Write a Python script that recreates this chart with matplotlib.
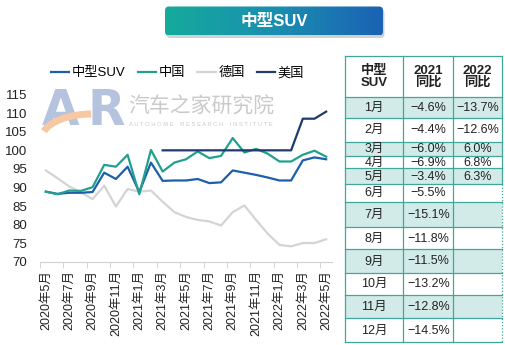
import numpy as np
import matplotlib.pyplot as plt
from matplotlib.patches import FancyBboxPatch, Rectangle, Arc
from matplotlib.lines import Line2D
from matplotlib.colors import LinearSegmentedColormap

plt.rcParams['font.family'] = ['Liberation Sans', 'Noto Sans CJK SC']
plt.rcParams['axes.unicode_minus'] = True

# monthly index, 2020-05 .. 2022-05
months = [f'{2020 + (m - 1) // 12}年{(m - 1) % 12 + 1}月' for m in range(5, 30)]
suv = [88.9, 88.3, 88.6, 88.6, 88.8, 94.0, 92.3, 95.6, 88.8, 96.7, 91.8, 91.9, 91.9,
       92.3, 91.2, 91.4, 94.6, 94.0, 93.4, 92.7, 91.9, 91.9, 97.3, 98.1, 97.6]
china = [88.9, 88.2, 89.2, 89.1, 90.1, 96.1, 95.6, 98.8, 88.2, 100.1, 94.3, 96.7, 97.6,
         99.7, 97.9, 98.5, 103.3, 99.4, 100.4, 99.1, 97.0, 97.0, 98.8, 99.9, 98.3]
germany = [94.6, 92.5, 90.3, 88.7, 86.9, 90.5, 84.9, 89.6, 88.9, 89.2, 86.2, 83.4, 82.1,
           81.3, 80.9, 79.8, 83.4, 85.2, 81.3, 77.6, 74.6, 74.2, 75.1, 75.1, 76.1]
usa = [np.nan] * 10 + [100.0] * 12 + [108.5, 108.5, 110.4]

# year-on-year table
tbl_header = ['中型\nSUV', '2021\n同比', '2022\n同比']
tbl_month = [f'{m}月' for m in range(1, 13)]
yoy_2021 = [-4.6, -4.4, -6.0, -6.9, -3.4, -5.5, -15.1, -11.8, -11.5, -13.2, -12.8, -14.5]
yoy_2022 = [-13.7, -12.6, 6.0, 6.8, 6.3]

C_SUV = '#1c5fab'
C_CN = '#22a08d'
C_DE = '#d4d4d4'
C_US = '#1f3a6e'
C_GRID = '#3fa89a'
C_SHADE = '#d3ebe8'

W, H = 505, 345
fig = plt.figure(figsize=(W / 100, H / 100), dpi=100)

# ---- line chart ----
ax = fig.add_axes([40 / W, 1 - 262 / H, 292 / W, 167.5 / H])
x = np.arange(len(months))
ax.plot(x, germany, color=C_DE, lw=1.6, zorder=2)
ax.plot(x, suv, color=C_SUV, lw=1.6, zorder=3)
ax.plot(x, china, color=C_CN, lw=1.6, zorder=4)
ax.plot(x, usa, color=C_US, lw=1.6, zorder=5)
ax.set_xlim(-0.5, len(months) - 0.5)
ax.set_ylim(70, 115)
ax.set_yticks(np.arange(70, 116, 5))
ax.tick_params(axis='y', length=0, labelsize=9.5, colors='#222222', pad=9)
ax.set_xticks(x[::2])
ax.set_xticklabels(months[::2], rotation=90, fontsize=9, color='#222222')
ax.set_xticks(np.arange(-0.5, len(months), 2), minor=True)
ax.tick_params(axis='x', which='major', length=0, pad=6)
ax.tick_params(axis='x', which='minor', length=4, color='#d0d0d0')
for s in ['top', 'right', 'left']:
    ax.spines[s].set_visible(False)
ax.spines['bottom'].set_color('#d0d0d0')
ax.patch.set_alpha(0)

handles = [Line2D([], [], color=c, lw=1.6) for c in (C_SUV, C_CN, C_DE, C_US)]
fig.legend(handles, ['中型SUV', '中国', '德国', '美国'], loc='center left',
           bbox_to_anchor=(51 / W, 1 - 73 / H), ncol=4, frameon=False,
           borderpad=0, borderaxespad=0,
           handlelength=1.4, handletextpad=0.2, columnspacing=0.9, fontsize=9.5)

# ---- overlay in pixel coordinates: banner, watermark, table ----
ov = fig.add_axes([0, 0, 1, 1], zorder=-1)
ov.axis('off')

# watermark
ov.text(42, 111, 'A', fontsize=35, fontweight='bold', color='#b5c3de',
        family='DejaVu Sans', va='center', ha='left', zorder=2)
ov.text(88, 111, 'R', fontsize=35, fontweight='bold', color='#b5c3de',
        family='DejaVu Sans', va='center', ha='left', zorder=2)
ov.add_patch(Arc((92, 138), 100, 48, theta1=-172, theta2=-92, color='#f6c9a3', lw=5,
                 zorder=3))
ov.text(128, 107, '汽车之家研究院', fontsize=15, color='#cacaca', va='center', ha='left')
ov.text(129, 124, 'A U T O H O M E    R E S E A R C H    I N S T I T U T E',
        fontsize=4.2, color='#cacaca', va='center', ha='left')

# title banner with gradient fill
shadow = FancyBboxPatch((166.5, 9), 218, 29, boxstyle='round,pad=0,rounding_size=4',
                        fc='#9a9a9a', ec='none', alpha=0.45)
ov.add_patch(shadow)
banner = FancyBboxPatch((165, 6.5), 218, 29, boxstyle='round,pad=0,rounding_size=4',
                        fc='none', ec='none')
ov.add_patch(banner)
grad = np.linspace(0, 1, 256)[None, :]
cm = LinearSegmentedColormap.from_list('bn', ['#15ab9c', '#1a8fb0', '#1b62b4'])
im = ov.imshow(grad, cmap=cm, extent=[165, 383, 35.5, 6.5], aspect='auto', zorder=2)
im.set_clip_path(banner)
ov.text(274, 21.5, '中型SUV', fontsize=12, fontweight='bold', color='white',
        ha='center', va='center', zorder=3)

# table
col_edges = [345, 403.3, 453.3, 501.7]
row_edges = [56, 97, 118, 141.7, 156, 168.3, 184, 201.7, 226.7, 249.3, 272.7,
             295, 318.3, 341.7]


def pct(v):
    return f'{v:.1f}%'.replace('-', '\u2212')


for r in range(len(row_edges) - 1):
    y0, y1 = row_edges[r], row_edges[r + 1]
    if r > 0 and r % 2 == 1:
        ov.add_patch(Rectangle((col_edges[0], y0), col_edges[-1] - col_edges[0], y1 - y0,
                               fc=C_SHADE, ec='none', zorder=1))
    yc = (y0 + y1) / 2
    if r == 0:
        cells = tbl_header
    else:
        i = r - 1
        cells = [tbl_month[i], pct(yoy_2021[i]),
                 pct(yoy_2022[i]) if i < len(yoy_2022) else '']
    for c, txt in enumerate(cells):
        xc = (col_edges[c] + col_edges[c + 1]) / 2
        ov.text(xc, yc + 0.5, txt, fontsize=9.5 if r == 0 else 9, color='#222222',
                ha='center', va='center', fontweight='bold' if r == 0 else 'normal',
                linespacing=1.0, zorder=3)

for y in row_edges:
    ov.plot([col_edges[0], col_edges[-1]], [y, y], color=C_GRID, lw=0.9, zorder=2)
for j, xe in enumerate(col_edges):
    if j == len(col_edges) - 1:
        ov.plot([xe, xe], [row_edges[0], row_edges[6]], color=C_GRID, lw=0.9, zorder=2)
        ov.plot([xe, xe], [row_edges[6], row_edges[-1]], color=C_GRID, lw=0.9,
                ls=(0, (1, 1.5)), zorder=2)
    else:
        ov.plot([xe, xe], [row_edges[0], row_edges[-1]], color=C_GRID, lw=0.9, zorder=2)

ov.set_xlim(0, W)
ov.set_ylim(H, 0)

fig.savefig('out.png', dpi=100)
